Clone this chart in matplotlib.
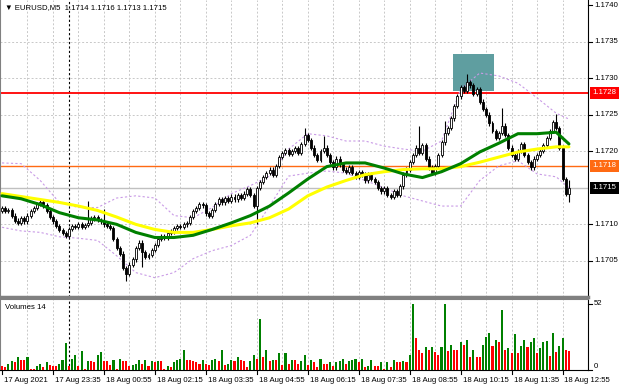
import matplotlib
matplotlib.use("Agg")
import matplotlib.pyplot as plt
import matplotlib.transforms as mtransforms

# EURUSD M5, bars from 17 Aug 22:15 to 18 Aug 13:05
close = [
    1.17122, 1.17118, 1.17120,
    1.17112, 1.17105, 1.17102, 1.17108, 1.17104,
    1.17112, 1.17118, 1.17122,
    1.17128, 1.17130, 1.17126,
    1.17118, 1.17110,
    1.17104, 1.17098, 1.17092, 1.17088, 1.17084,
    1.17094, 1.17098, 1.17096, 1.17100, 1.17097, 1.17099, 1.17102, 1.17108, 1.17110, 1.17106, 1.17104,
    1.17100, 1.17098, 1.17095,
    1.17080, 1.17068, 1.17060,
    1.17040, 1.17032,
    1.17045, 1.17052,
    1.17068, 1.17075,
    1.17062, 1.17055, 1.17058, 1.17065,
    1.17072, 1.17080, 1.17084,
    1.17082, 1.17088, 1.17090,
    1.17095, 1.17098, 1.17096, 1.17100, 1.17102,
    1.17110, 1.17118, 1.17122,
    1.17128, 1.17126, 1.17115, 1.17112,
    1.17120, 1.17128, 1.17134, 1.17130,
    1.17136, 1.17132, 1.17138, 1.17134, 1.17140, 1.17136, 1.17142,
    1.17148, 1.17140, 1.17125,
    1.17150,
    1.17158, 1.17165, 1.17170, 1.17175, 1.17168, 1.17180,
    1.17192, 1.17198, 1.17202, 1.17196, 1.17200, 1.17204, 1.17198,
    1.17210, 1.17222, 1.17215,
    1.17205, 1.17195, 1.17188, 1.17200,
    1.17205, 1.17195, 1.17185, 1.17178, 1.17190,
    1.17182, 1.17175, 1.17172,
    1.17178, 1.17170, 1.17165, 1.17172, 1.17168,
    1.17160, 1.17168, 1.17162,
    1.17158, 1.17150, 1.17145, 1.17150,
    1.17140, 1.17138, 1.17145, 1.17140, 1.17152,
    1.17168, 1.17175, 1.17185,
    1.17195, 1.17205, 1.17198, 1.17208,
    1.17190, 1.17178, 1.17170, 1.17180,
    1.17195, 1.17212,
    1.17225, 1.17232, 1.17245, 1.17262,
    1.17275, 1.17288, 1.17282, 1.17295, 1.17290,
    1.17278, 1.17285, 1.17268, 1.17258, 1.17250,
    1.17238, 1.17228, 1.17218, 1.17225,
    1.17235, 1.17222,
    1.17205, 1.17195, 1.17190,
    1.17200, 1.17210, 1.17195, 1.17185, 1.17178,
    1.17190, 1.17195, 1.17200, 1.17208,
    1.17218, 1.17228, 1.17240, 1.17232,
    1.17205, 1.17162,
    1.17142, 1.17150,
]
first_open = 1.17118
hi_spike = {27: 1.17132, 32: 1.17121, 95: 1.17232, 101: 1.17221, 131: 1.17235,
            139: 1.17241, 146: 1.17305, 157: 1.17259, 174: 1.17251, 178: 1.17160}
lo_spike = {39: 1.17022, 44: 1.17041, 80: 1.17100, 178: 1.17130}

volume = [
    3, 2, 5, 7, 6, 10, 8, 8, 10, 1,
    1, 3, 5, 2, 6, 4, 3, 3, 5, 8,
    21, 3, 9, 12, 3, 15, 1, 7, 7, 6,
    12, 14, 7, 7, 4, 8, 1, 9, 7, 7,
    3, 4, 5, 8, 5, 8, 3, 7, 6, 7,
    7, 1, 3, 2, 6, 8, 9, 16, 8, 8,
    7, 6, 5, 8, 5, 4, 8, 9, 7, 16,
    4, 5, 8, 7, 10, 8, 7, 2, 7, 12,
    9, 40, 10, 16, 7, 8, 8, 13, 4, 13,
    5, 8, 8, 5, 7, 12, 4, 8, 6, 2,
    9, 5, 5, 6, 3, 6, 7, 9, 5, 7,
    8, 9, 6, 9, 2, 3, 8, 3, 3, 6,
    1, 6, 2, 8, 6, 6, 7, 6, 12, 52,
    25, 16, 13, 18, 16, 18, 14, 12, 18, 52,
    15, 20, 16, 16, 22, 20, 24, 10, 16, 10,
    10, 20, 26, 29, 19, 24, 22, 47, 16, 17,
    13, 28, 13, 19, 24, 18, 22, 25, 13, 17,
    22, 23, 11, 29, 14, 19, 25, 16, 15,
]

# indicator lines every 6 bars
ind_idx = [0, 6, 12, 18, 24, 30, 36, 42, 48, 54, 60, 66, 72, 78, 84, 90, 96,
           102, 108, 114, 120, 126, 132, 138, 144, 150, 156, 162, 168, 174, 178]
ma_green = [1.17139, 1.17135, 1.17127, 1.17116, 1.17109, 1.17106, 1.17100, 1.17089,
            1.17082, 1.17082, 1.17085, 1.17093, 1.17102, 1.17112, 1.17125, 1.17143,
            1.17162, 1.17179, 1.17184, 1.17184, 1.17177, 1.17169, 1.17164, 1.17172,
            1.17183, 1.17199, 1.17211, 1.17224, 1.17224, 1.17226, 1.17210]
ma_yellow = [1.17142, 1.17138, 1.17134, 1.17130, 1.17125, 1.17119, 1.17110, 1.17100,
             1.17093, 1.17089, 1.17089, 1.17093, 1.17098, 1.17102, 1.17109, 1.17121,
             1.17139, 1.17151, 1.17160, 1.17168, 1.17172, 1.17175, 1.17176, 1.17176,
             1.17179, 1.17185, 1.17192, 1.17199, 1.17203, 1.17206, 1.17206]
bb_upper = [1.17184, 1.17183, 1.17160, 1.17130, 1.17123, 1.17123, 1.17136, 1.17139,
            1.17136, 1.17112, 1.17109, 1.17123, 1.17142, 1.17153, 1.17166, 1.17203,
            1.17224, 1.17221, 1.17214, 1.17214, 1.17207, 1.17203, 1.17200, 1.17214,
            1.17285, 1.17307, 1.17303, 1.17293, 1.17273, 1.17252, 1.17244]
bb_lower = [1.17096, 1.17091, 1.17089, 1.17083, 1.17081, 1.17078, 1.17057, 1.17034,
            1.17027, 1.17034, 1.17053, 1.17064, 1.17071, 1.17085, 1.17125, 1.17166,
            1.17170, 1.17173, 1.17170, 1.17160, 1.17150, 1.17139, 1.17132, 1.17125,
            1.17125, 1.17160, 1.17180, 1.17187, 1.17169, 1.17165, 1.17150]

time_ticks = [0, 16, 32, 48, 64, 80, 96, 112, 128, 144, 160, 176]
time_labels = ["17 Aug 2021", "17 Aug 23:35", "18 Aug 00:55", "18 Aug 02:15",
               "18 Aug 03:35", "18 Aug 04:55", "18 Aug 06:15", "18 Aug 07:35",
               "18 Aug 08:55", "18 Aug 10:15", "18 Aug 11:35", "18 Aug 12:55"]
day_sep = 21
price_ticks = [1.1705, 1.1710, 1.1720, 1.1725, 1.1730, 1.1735, 1.1740]
level_red = 1.1728
level_orange = 1.1718
bid = 1.1715
zone = (141.6, 154.5, 1.17282, 1.17333)

W, H = 620, 388
fig = plt.figure(figsize=(W / 100, H / 100), dpi=100)
fig.patch.set_facecolor("white")


def box(l, t, r, b):
    return [l / W, 1 - b / H, (r - l) / W, (b - t) / H]


ax = fig.add_axes(box(0, 0, 588, 297))
axv = fig.add_axes(box(0, 299, 588, 370))
xlim = (-2 / 3.185, 586 / 3.185)
grid_kw = dict(color="#c8c8c8", lw=0.7, ls=(0, (2, 2)), zorder=0)
small = dict(fontsize=5.6, family=["Liberation Sans", "DejaVu Sans"])

# ---- price panel
ax.set_xlim(*xlim)
ax.set_ylim(1.170006, 1.174069)
for p in [1.1705, 1.1710, 1.1715, 1.1720, 1.1725, 1.1730, 1.1735]:
    ax.axhline(p, **grid_kw)
for i in range(8, 184, 8):
    ax.axvline(i, **grid_kw)
    axv.axvline(i, **grid_kw)
ax.axvline(day_sep, color="black", lw=0.8, ls=(0, (2, 2)), zorder=1)
axv.axvline(day_sep, color="black", lw=0.8, ls=(0, (2, 2)), zorder=1)

ax.add_patch(plt.Rectangle((zone[0], zone[2]), zone[1] - zone[0], zone[3] - zone[2],
                           facecolor="#5f9ea0", edgecolor="none", zorder=1))

ax.axhline(bid, color="#c0c0c0", lw=1, zorder=1)
ax.axhline(level_red, color="#ff0000", lw=1.3, zorder=2)
ax.axhline(level_orange, color="#ff6a13", lw=1, zorder=2)

ax.plot(ind_idx, bb_upper, color="#c99be6", lw=0.8, ls=(0, (2, 2)), zorder=2)
ax.plot(ind_idx, bb_lower, color="#c99be6", lw=0.8, ls=(0, (2, 2)), zorder=2)

opens = [first_open] + close[:-1]
for i, (o, c) in enumerate(zip(opens, close)):
    hi = hi_spike.get(i, max(o, c) + 0.00003)
    lo = lo_spike.get(i, min(o, c) - 0.00003)
    ax.vlines(i, lo, hi, color="black", lw=0.8, zorder=3)
    bottom = min(o, c)
    height = max(abs(c - o), 0.000012)
    if c >= o:
        ax.bar(i, height, 0.62, bottom, facecolor="white", edgecolor="black", lw=0.6, zorder=4)
    else:
        ax.bar(i, height, 0.62, bottom, facecolor="black", edgecolor="black", lw=0.6, zorder=4)

ax.plot(ind_idx, ma_yellow, color="#ffff00", lw=2.2, zorder=5, solid_capstyle="round")
ax.plot(ind_idx, ma_green, color="#008000", lw=2.2, zorder=6, solid_capstyle="round")

ax.set_xticks([])
ax.set_yticks([])
ax.spines["top"].set_visible(False)
ax.spines["left"].set_color("#808080")
ax.spines["right"].set_color("black")
ax.spines["bottom"].set_color("#808080")
ax.spines["bottom"].set_linewidth(2.5)

trans = mtransforms.blended_transform_factory(ax.transAxes, ax.transData)
for p in price_ticks:
    ax.plot([1.0, 1.006], [p, p], color="black", lw=0.8, transform=trans, clip_on=False)
    ax.text(1.01, p, f"{p:.4f}", transform=trans, va="center", ha="left", **small)

for p, col in [(level_red, "#ff0000"), (level_orange, "#ff6a13"), (bid, "black")]:
    ax.text(1.008, p, f"{p:.4f}", transform=trans, va="center", ha="left", color="white",
            bbox=dict(boxstyle="square,pad=0.3", facecolor=col, edgecolor="none"),
            zorder=10, **small)

ax.text(0.008, 0.985, "\u25bc EURUSD,M5  1.1714 1.1716 1.1713 1.1715", transform=ax.transAxes,
        va="top", ha="left", **small)

# ---- volume panel
colors = ["#008000" if i > 0 and v > volume[i - 1] else "#ff0000" for i, v in enumerate(volume)]
axv.bar(range(len(volume)), volume, 0.65, color=colors, zorder=3)
axv.set_xlim(*xlim)
axv.set_ylim(0, 55.9)
axv.set_xticks([])
axv.set_yticks([])
axv.spines["top"].set_color("#808080")
axv.spines["top"].set_linewidth(1.5)
axv.spines["left"].set_color("#808080")
axv.spines["right"].set_color("black")
axv.spines["bottom"].set_color("black")
axv.text(0.008, 0.93, "Volumes 14", transform=axv.transAxes, va="top", ha="left", **small)
vtrans = mtransforms.blended_transform_factory(axv.transAxes, axv.transData)
axv.text(1.01, 52, "52", transform=vtrans, va="center", ha="left", **small)
axv.text(1.01, 3, "0", transform=vtrans, va="center", ha="left", **small)
for v in [52, 0]:
    axv.plot([1.0, 1.006], [v, v], color="black", lw=0.8, transform=vtrans, clip_on=False)

ttrans = mtransforms.blended_transform_factory(axv.transData, axv.transAxes)
for t, lab in zip(time_ticks, time_labels):
    axv.plot([t, t], [0, -0.06], color="black", lw=0.8, transform=ttrans, clip_on=False)
    axv.text(t + 0.6, -0.1, lab, transform=ttrans, va="top", ha="left", **small)

fig.savefig("out.png", dpi=100, facecolor="white")
